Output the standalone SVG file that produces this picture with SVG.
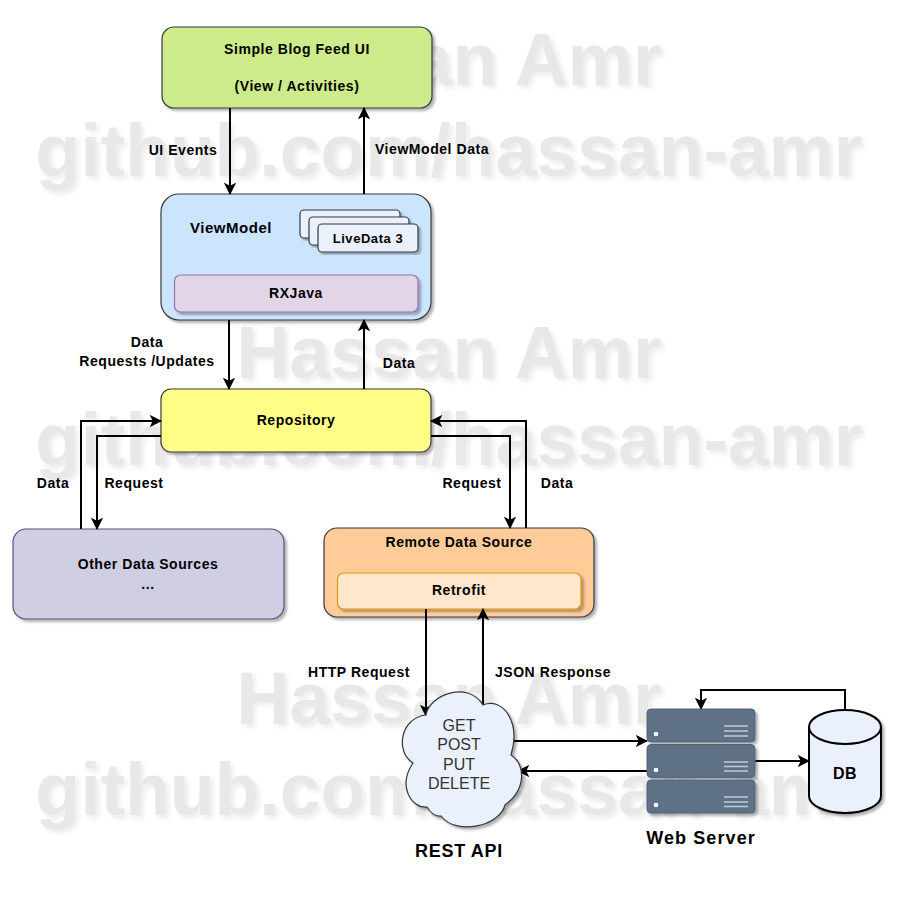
<svg xmlns="http://www.w3.org/2000/svg" width="900" height="900" viewBox="0 0 900 900">
<style>
.wm{font:bold 73.300px "Liberation Sans",Arial,sans-serif;fill:#e8e8e8;text-anchor:middle}
.b{stroke-width:1.2}
.t{font:bold 14px "Liberation Sans",Arial,sans-serif;fill:#000;text-anchor:middle;letter-spacing:.55px}
.c{fill:none;stroke:#000;stroke-width:2}
.g{font:16px "Liberation Sans",Arial,sans-serif;fill:#333;text-anchor:middle}
.srv{fill:#5f7186;stroke:#52647a;stroke-width:1}
.ln{fill:none;stroke:#c4cad2;stroke-width:1.5}
.led{fill:#f0f0f0;stroke:#52647a;stroke-width:1}
</style>
<defs>
<marker id="a" viewBox="0 0 12 12" refX="11" refY="6" markerWidth="6.2" markerHeight="6.2" orient="auto" markerUnits="strokeWidth"><path d="M0 0L12 6L0 12L3 6Z" fill="#000"/></marker>
<filter id="s" x="-10%" y="-10%" width="120%" height="120%"><feDropShadow dx="2.500" dy="2.500" stdDeviation=".8" flood-color="#000" flood-opacity="0.3"/></filter>
<filter id="w" x="-5%" y="-20%" width="110%" height="140%"><feDropShadow dx="3" dy="3" stdDeviation="2.500" flood-color="#000" flood-opacity="0.08"/></filter>
</defs>
<g id="watermark" filter="url(#w)">
<text class="wm" x="449" y="85">Hassan Amr</text>
<text class="wm" x="449" y="176">github.com/hassan-amr</text>
<text class="wm" x="449" y="378">Hassan Amr</text>
<text class="wm" x="449" y="465">github.com/hassan-amr</text>
<text class="wm" x="449" y="724">Hassan Amr</text>
<text class="wm" x="449" y="815">github.com/hassan-amr</text>
</g>
<g id="ui"><rect class="b" x="162" y="27" width="270" height="81" rx="12" fill="#cdeb8b" stroke="#36393d" filter="url(#s)"/><text class="t" x="297" y="54">Simple Blog Feed UI</text><text class="t" x="297" y="91">(View / Activities)</text></g>
<g id="viewmodel">
<rect class="b" x="161" y="194" width="270" height="126" rx="18" fill="#cce5ff" stroke="#36393d" filter="url(#s)"/>
<text class="t" x="231" y="233" style="font-size:15px">ViewModel</text>
<rect class="b" x="300" y="210" width="100" height="28" rx="4" fill="#eaf1fd" stroke="#36393d" filter="url(#s)"/>
<rect class="b" x="309" y="217" width="100" height="28" rx="4" fill="#eaf1fd" stroke="#36393d" filter="url(#s)"/>
<rect class="b" x="318" y="224" width="100" height="28" rx="4" fill="#eaf1fd" stroke="#36393d" filter="url(#s)"/>
<text class="t" x="368" y="243" style="font-size:13px">LiveData 3</text>
<rect class="b" x="174.500" y="275" width="243.500" height="37" rx="6" fill="#e1d5e7" stroke="#9673a6" filter="url(#s)"/>
<text class="t" x="296" y="298">RXJava</text>
</g>
<g id="repository"><rect class="b" x="161" y="389" width="270" height="63" rx="10" fill="#ffff88" stroke="#36393d" filter="url(#s)"/><text class="t" x="296" y="425">Repository</text></g>
<g id="other"><rect class="b" x="13" y="529" width="271" height="90" rx="13" fill="#d0cee2" stroke="#56517e" filter="url(#s)"/><text class="t" x="148" y="569">Other Data Sources</text><text class="t" x="148" y="589">...</text></g>
<g id="remote">
<rect class="b" x="324" y="528" width="270" height="89" rx="13" fill="#ffcc99" stroke="#36393d" filter="url(#s)"/>
<text class="t" x="459" y="547">Remote Data Source</text>
<rect class="b" x="337.500" y="573" width="243.500" height="36" rx="6" fill="#ffe6cc" stroke="#d79b00" filter="url(#s)"/>
<text class="t" x="459" y="595">Retrofit</text>
</g>
<g id="connectors">
<path class="c" marker-end="url(#a)" d="M230 108V194"/>
<path class="c" marker-end="url(#a)" d="M364 194V108"/>
<path class="c" marker-end="url(#a)" d="M229 320V389"/>
<path class="c" marker-end="url(#a)" d="M364 389V320"/>
<path class="c" marker-end="url(#a)" d="M81 529V421H161"/>
<path class="c" marker-end="url(#a)" d="M161 436H97V529"/>
<path class="c" marker-end="url(#a)" d="M431 436H510V528"/>
<path class="c" marker-end="url(#a)" d="M526 528V421H431"/>
<path class="c" marker-end="url(#a)" d="M426 609V716"/>
<path class="c" marker-end="url(#a)" d="M483 705V609"/>
<path class="c" marker-end="url(#a)" d="M513 741H647"/>
<path class="c" marker-end="url(#a)" d="M647 771H518"/>
<path class="c" marker-end="url(#a)" d="M755 761H809"/>
<path class="c" marker-end="url(#a)" d="M845 711V690H701V709"/>
</g>
<g id="labels">
<text class="t" x="183" y="155">UI Events</text>
<text class="t" x="432" y="154">ViewModel Data</text>
<text class="t" x="147" y="347">Data</text>
<text class="t" x="147" y="366">Requests /Updates</text>
<text class="t" x="399" y="368">Data</text>
<text class="t" x="53" y="488">Data</text>
<text class="t" x="134" y="488">Request</text>
<text class="t" x="472" y="488">Request</text>
<text class="t" x="557" y="488">Data</text>
<text class="t" x="359" y="677">HTTP Request</text>
<text class="t" x="553" y="677">JSON Response</text>
</g>
<g id="rest-api">
<path d="M426 715C429 695 468 680 483 705C503 697 521 722 511 755C526 765 526 790 505 805C500 826 456 836 441 816C434 817 430 812 427 807C410 808 398 785 413 763C395 752 400 718 426 715Z" fill="#eaf1fd" stroke="#36393d" stroke-width="1.200" filter="url(#s)"/>
<text class="g" x="459" y="731">GET</text>
<text class="g" x="459" y="750">POST</text>
<text class="g" x="459" y="770">PUT</text>
<text class="g" x="459" y="789">DELETE</text>
<text class="t" x="459" y="857" style="font-size:18px;letter-spacing:.7px">REST API</text>
</g>
<g id="web-server">
<g filter="url(#s)">
<rect class="srv" x="647" y="709" width="108" height="33" rx="4"/>
<rect class="srv" x="647" y="744.500" width="108" height="33" rx="4"/>
<rect class="srv" x="647" y="780" width="108" height="33" rx="4"/>
</g>
<circle class="led" cx="656" cy="734" r="3"/><circle class="led" cx="656" cy="770" r="3"/><circle class="led" cx="656" cy="805" r="3"/>
<path class="ln" d="M724 726H748M724 731H748M724 736H748M724 762H748M724 766.500H748M724 771H748M724 797H748M724 802H748M724 806.500H748"/>
<text class="t" x="701" y="844" style="font-size:18px;letter-spacing:1.100px">Web Server</text>
</g>
<g id="db">
<path d="M809 727A36 17 0 0 1 881 727V796A36 17 0 0 1 809 796Z" fill="#eaf1fd" stroke="#000" stroke-width="2" filter="url(#s)"/>
<path d="M809 727A36 17 0 0 0 881 727" fill="none" stroke="#000" stroke-width="2"/>
<text class="t" x="845" y="779" style="font-size:16px">DB</text>
</g>
</svg>
